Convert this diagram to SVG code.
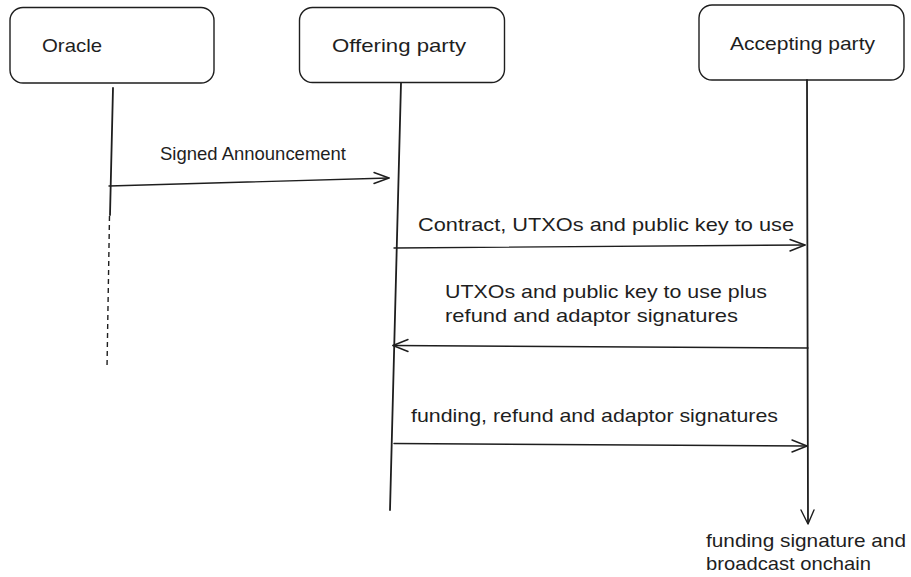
<svg xmlns="http://www.w3.org/2000/svg" width="911" height="577" viewBox="0 0 911 577">
  <style>
    .box { fill: #ffffff; stroke: #1e1e1e; stroke-width: 1.4; }
    .life { fill: none; stroke: #1e1e1e; stroke-width: 1.8; stroke-linecap: round; }
    .dash { fill: none; stroke: #1e1e1e; stroke-width: 1.4; stroke-dasharray: 5 4; }
    .msg { fill: none; stroke: #1e1e1e; stroke-width: 1.4; stroke-linecap: round; }
    .head { fill: none; stroke: #1e1e1e; stroke-width: 1.4; stroke-linecap: round; stroke-linejoin: round; }
    text { font-family: "Liberation Sans", Arial, sans-serif; font-size: 19px; fill: #1e1e1e; }
  </style>
  <rect width="911" height="577" fill="#ffffff"/>

  <!-- participants -->
  <g id="oracle">
    <rect class="box" x="10" y="7.5" width="204" height="75.5" rx="13"/>
    <text x="42" y="52" textLength="60" lengthAdjust="spacingAndGlyphs">Oracle</text>
  </g>
  <g id="offering-party">
    <rect class="box" x="299.5" y="7.5" width="205" height="75" rx="13"/>
    <text x="332" y="52" textLength="134" lengthAdjust="spacingAndGlyphs">Offering party</text>
  </g>
  <g id="accepting-party">
    <rect class="box" x="699" y="5" width="205" height="75" rx="13"/>
    <text x="730" y="50" textLength="145" lengthAdjust="spacingAndGlyphs">Accepting party</text>
  </g>

  <!-- lifelines and messages -->
  <g id="connectors">
    <path class="life" d="M113 88 L110 215"/>
    <path class="dash" d="M109.5 216 L107 368"/>
    <path class="life" d="M401 83 L390 510"/>
    <path class="life" d="M807 80 L808 523"/>
    <path class="head" d="M801 510 L808 524 L814 510"/>

    <path class="msg" d="M109 186 L389 178"/>
    <path class="head" d="M374 172.5 L389 178 L374 183.5"/>

    <path class="msg" d="M394 248 L805 245"/>
    <path class="head" d="M790 239.5 L805 245 L790 251"/>

    <path class="msg" d="M808 348 L393 345.5"/>
    <path class="head" d="M408 339.5 L393 345.5 L408 351.5"/>

    <path class="msg" d="M394 443.5 L807 446"/>
    <path class="head" d="M792 440 L807 446 L792 452"/>
  </g>

  <!-- message labels -->
  <g id="labels">
    <text x="160" y="160" textLength="186" lengthAdjust="spacingAndGlyphs">Signed Announcement</text>
    <text x="418" y="231" textLength="376" lengthAdjust="spacingAndGlyphs">Contract, UTXOs and public key to use</text>
    <text x="445" y="298" textLength="322" lengthAdjust="spacingAndGlyphs">UTXOs and public key to use plus</text>
    <text x="445" y="322" textLength="293" lengthAdjust="spacingAndGlyphs">refund and adaptor signatures</text>
    <text x="411" y="422" textLength="367" lengthAdjust="spacingAndGlyphs">funding, refund and adaptor signatures</text>
    <text x="706" y="547" textLength="200" lengthAdjust="spacingAndGlyphs">funding signature and</text>
    <text x="706" y="570" textLength="165" lengthAdjust="spacingAndGlyphs">broadcast onchain</text>
  </g>
</svg>
